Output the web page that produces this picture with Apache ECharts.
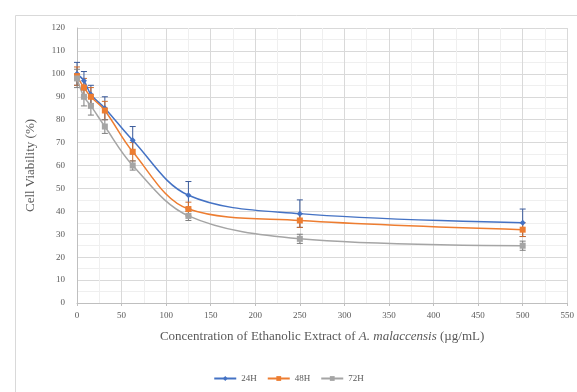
<!DOCTYPE html>
<html>
<head>
<meta charset="utf-8">
<script src="https://cdn.jsdelivr.net/npm/echarts@6/dist/echarts.min.js"></script>
<style>
  html, body { margin: 0; padding: 0; background: #fff; }
  #chart { width: 577px; height: 392px; }
</style>
</head>
<body>
<div id="chart"></div>
<script>
var concentrations = [0, 7.8, 15.6, 31.25, 62.5, 125, 250, 500];
var seriesNames = ['24H', '48H', '72H'];
var viability24 = [100, 97, 91, 85, 71, 47, 39, 35];
var viability48 = [99, 94, 90, 84, 66, 41, 36, 32];
var viability72 = [98, 90, 86, 77, 60, 38, 28, 25];
var err24 = [5, 4, 4, 5, 6, 6, 6, 6];
var err48 = [4, 4, 4, 4, 4, 3, 3, 3];
var err72 = [4, 4, 4, 3, 2, 2, 2, 2];
var colors = ['#4472c4', '#ed7d31', '#a5a5a5'];
var symbols = ['diamond', 'rect', 'rect'];

var chart = echarts.init(document.getElementById('chart'));

function pairs(values) {
    return concentrations.map(function (c, i) { return [c, values[i]]; });
}

function errorSeries(values, errs, color) {
    var data = concentrations.map(function (c, i) {
        return [c, values[i] - errs[i], values[i] + errs[i]];
    });
    return {
        type: 'custom',
        silent: true,
        z: 1,
        data: data,
        renderItem: function (params, api) {
            var lo = api.coord([api.value(0), api.value(1)]);
            var hi = api.coord([api.value(0), api.value(2)]);
            var w = 3;
            var style = { stroke: color, lineWidth: 1 };
            return {
                type: 'group',
                children: [
                    { type: 'line', shape: { x1: lo[0], y1: lo[1], x2: hi[0], y2: hi[1] }, style: style },
                    { type: 'line', shape: { x1: hi[0] - w, y1: hi[1], x2: hi[0] + w, y2: hi[1] }, style: style },
                    { type: 'line', shape: { x1: lo[0] - w, y1: lo[1], x2: lo[0] + w, y2: lo[1] }, style: style }
                ]
            };
        }
    };
}

var allValues = [viability24, viability48, viability72];
var allErrs = [err24, err48, err72];
var series = [];
allValues.forEach(function (vals, k) {
    series.push({
        name: seriesNames[k],
        type: 'line',
        smooth: 0.35,
        data: pairs(vals),
        symbol: symbols[k],
        symbolSize: 6,
        z: 3,
        lineStyle: { color: colors[k], width: 1.5 },
        itemStyle: { color: colors[k] }
    });
});
allValues.forEach(function (vals, k) {
    series.push(errorSeries(vals, allErrs[k], k === 0 ? '#3a5a9a' : (k === 1 ? '#d06a28' : '#7f7f7f')));
});

var option = {
    animation: false,
    backgroundColor: '#fff',
    textStyle: { fontFamily: 'Liberation Serif' },
    graphic: [{
        type: 'rect',
        left: 13, top: 13,
        shape: { width: 600, height: 400 },
        style: { fill: 'none', stroke: '#d9d9d9', lineWidth: 1 }
    }],
    grid: { left: 77, right: 9, top: 28, bottom: 89 },
    legend: {
        data: seriesNames,
        bottom: 4,
        left: 'center',
        itemWidth: 22,
        itemHeight: 6,
        itemGap: 10,
        textStyle: { color: '#595959', fontSize: 9, fontFamily: 'Liberation Serif' }
    },
    xAxis: {
        type: 'value',
        min: 0, max: 550, interval: 50,
        name: 'Concentration of Ethanolic Extract of {i|A. malaccensis} (µg/mL)',
        nameLocation: 'middle',
        nameGap: 27,
        nameTextStyle: {
            color: '#595959', fontSize: 13, fontFamily: 'Liberation Serif',
            rich: { i: { fontStyle: 'italic', fontSize: 13, color: '#595959', fontFamily: 'Liberation Serif' } }
        },
        axisLine: { lineStyle: { color: '#bfbfbf' } },
        axisTick: { show: true, inside: false, length: 3, lineStyle: { color: '#bfbfbf' } },
        axisLabel: { color: '#595959', fontSize: 9, margin: 8 },
        splitLine: { show: true, lineStyle: { color: '#d9d9d9' } },
        minorTick: { show: false, splitNumber: 2 },
        minorSplitLine: { show: true, lineStyle: { color: '#efefef' } }
    },
    yAxis: {
        type: 'value',
        min: 0, max: 120, interval: 10,
        name: 'Cell Viability (%)',
        nameLocation: 'middle',
        nameGap: 40,
        nameTextStyle: { color: '#595959', fontSize: 13, fontFamily: 'Liberation Serif' },
        axisLine: { show: true, lineStyle: { color: '#bfbfbf' } },
        axisTick: { show: false },
        axisLabel: { color: '#595959', fontSize: 9, margin: 12 },
        splitLine: { show: true, lineStyle: { color: '#d9d9d9' } },
        minorTick: { show: false, splitNumber: 2 },
        minorSplitLine: { show: true, lineStyle: { color: '#efefef' } }
    },
    series: series
};

chart.setOption(option);
</script>
</body>
</html>
